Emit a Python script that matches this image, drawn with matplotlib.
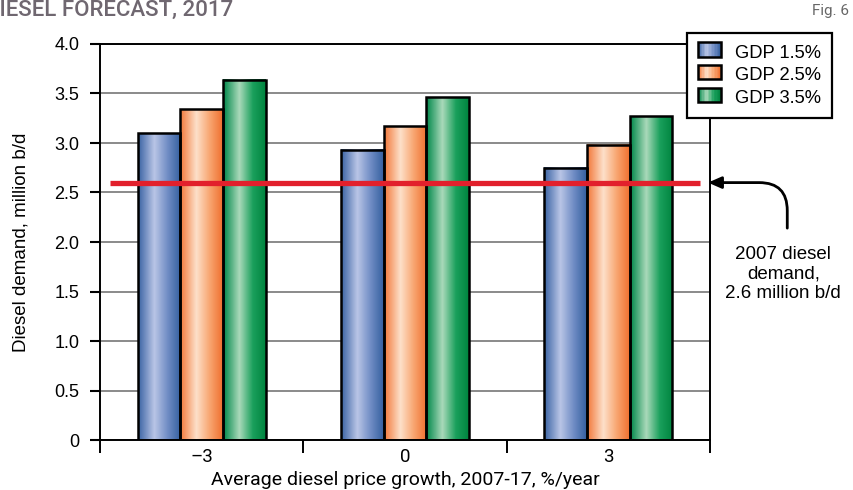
import numpy as np
import matplotlib.pyplot as plt
from matplotlib.colors import LinearSegmentedColormap
from matplotlib.patches import Rectangle
from matplotlib.legend_handler import HandlerBase

# data
price_growth = ["\u20133", "0", "3"]
gdp_15 = [3.10, 2.93, 2.75]
gdp_25 = [3.34, 3.17, 2.98]
gdp_35 = [3.64, 3.46, 3.27]
series_names = ["GDP 1.5%", "GDP 2.5%", "GDP 3.5%"]
demand_2007 = 2.6
y_ticks = [0, 0.5, 1.0, 1.5, 2.0, 2.5, 3.0, 3.5, 4.0]

# cylinder-like shading: dark edge -> highlight -> dark edge
shades = [
    ["#3b64a4", "#b9c5e6", "#6f8cc4", "#35609f"],
    ["#f2783a", "#fde0c9", "#f8a570", "#ef7030"],
    ["#00884a", "#a9d9ba", "#1aa05c", "#00843f"],
]
cmaps = [LinearSegmentedColormap.from_list("s%d" % i, list(zip([0, 0.38, 0.7, 1], c)))
         for i, c in enumerate(shades)]
grad = np.linspace(0, 1, 64).reshape(1, -1)

cond = "Roboto"
plt.rcParams['font.family'] = ['Liberation Sans', 'DejaVu Sans']

fig = plt.figure(figsize=(8.54, 4.90), dpi=100)
ax = fig.add_axes([100 / 854, 1 - 440 / 490, 610 / 854, 396 / 490])

x = np.arange(len(price_growth))
w = 0.21
for i, vals in enumerate([gdp_15, gdp_25, gdp_35]):
    bars = ax.bar(x + (i - 1) * w, vals, w, facecolor="none", edgecolor="black",
                  linewidth=1.8, zorder=3)
    for p in bars:
        ax.imshow(grad, cmap=cmaps[i], aspect="auto", zorder=2,
                  extent=[p.get_x(), p.get_x() + p.get_width(), 0, p.get_height()])

ax.hlines(demand_2007, -0.45, 2.45, color="#e2202c", linewidth=3.8, zorder=4)

ax.set_xlim(-0.5, 2.5)
ax.set_ylim(0, 4.0)
ax.set_yticks(y_ticks)
ax.set_yticklabels(["0" if v == 0 else "%.1f" % v for v in y_ticks], fontsize=13)
ax.yaxis.grid(True, color="#8a8a8a", linewidth=1.4)
ax.set_axisbelow(True)
ax.set_xticks(x)
ax.set_xticklabels(price_growth, fontsize=13.5, family=cond)
ax.set_xticks([-0.5, 0.5, 1.5, 2.5], minor=True)
ax.tick_params(axis="x", which="major", length=0, pad=6)
ax.tick_params(axis="x", which="minor", length=9, width=1.4, direction="out")
ax.tick_params(axis="y", length=7, width=1.5, direction="out", pad=8)
for s in ax.spines.values():
    s.set_linewidth(1.4)

ax.set_xlabel("Average diesel price growth, 2007-17, %/year", fontsize=14,
              family=cond, labelpad=3)
ax.set_ylabel("Diesel demand, million b/d", fontsize=13.5, labelpad=18)


class GradHandler(HandlerBase):
    def __init__(self, cmap):
        super().__init__()
        self.cmap = cmap

    def create_artists(self, legend, orig, xd, yd, width, height, fontsize, trans):
        arts = []
        n = 16
        for k in range(n):
            r = Rectangle((xd + width * k / n, yd), width / n + 0.3, height,
                          facecolor=self.cmap((k + 0.5) / n), edgecolor="none",
                          transform=trans)
            arts.append(r)
        arts.append(Rectangle((xd, yd), width, height, facecolor="none",
                              edgecolor="black", linewidth=1.8, transform=trans))
        return arts


handles = [Rectangle((0, 0), 1, 1) for _ in series_names]
leg = ax.legend(handles, series_names, loc="upper left",
                bbox_to_anchor=(687 / 854, 1 - 33 / 490), bbox_transform=fig.transFigure,
                handler_map={h: GradHandler(c) for h, c in zip(handles, cmaps)},
                fontsize=13.2, fancybox=False, framealpha=1, edgecolor="black",
                handlelength=1.25, handleheight=0.85, labelspacing=0.28,
                borderpad=0.6, handletextpad=0.75, borderaxespad=0)
leg.get_frame().set_linewidth(1.6)
leg.set_zorder(10)

ax.annotate("", xy=(2.49, demand_2007), xytext=(2.88, 2.14),
            annotation_clip=False,
            arrowprops=dict(arrowstyle="-|>,head_length=0.8,head_width=0.35",
                            color="black", lw=2.0, shrinkA=0, shrinkB=0,
                            connectionstyle="angle,angleA=90,angleB=0,rad=28"))
ax.text(2.86, 1.68, "2007 diesel\ndemand,\n2.6 million b/d", ha="center", va="center",
        fontsize=13.5, linespacing=1.2, clip_on=False)

fig.text(-15 / 854, 1 - 0 / 490, "DIESEL FORECAST, 2017", ha="left", va="top",
         fontsize=16, color="#6f6770", family=cond, weight="medium")
fig.text(849 / 854, 1 - 4 / 490, "Fig. 6", ha="right", va="top",
         fontsize=11, color="#666666", family=cond)

fig.savefig("out.png", dpi=100)
